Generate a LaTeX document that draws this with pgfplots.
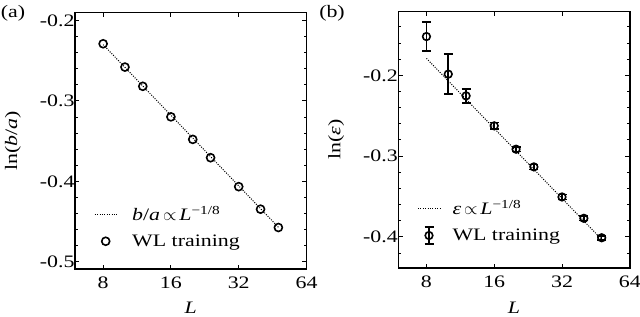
\documentclass[border=0pt]{standalone}
\usepackage{fontspec}
\setmainfont[FakeStretch=1.25]{Liberation Serif}
\newfontfamily\tf[FakeStretch=1.25]{Liberation Serif}
\usepackage{pgfplots}
\pgfplotsset{compat=1.18}
\newcommand{\fs}{\tf\fontsize{17.5}{20}\selectfont}

\pgfplotsset{
  legline/.style={legend image code/.code={\draw[##1] (0pt,0pt) -- (22pt,0pt); \path (37pt,0pt);}},
  legmark/.style={legend image code/.code={\draw[mark repeat=2,mark phase=2,##1] plot coordinates {(0pt,0pt) (11pt,0pt) (22pt,0pt)}; \path (37pt,0pt);}},
  leglineB/.style={legend image code/.code={\draw[##1] (0pt,0pt) -- (22pt,0pt); \path (34pt,0pt);}},
  legerr/.style={legend image code/.code={\draw[line width=1.6pt, black] (11pt,-8.5pt) -- (11pt,8.5pt) (6.5pt,-8.5pt) -- (15.5pt,-8.5pt) (6.5pt,8.5pt) -- (15.5pt,8.5pt);
    \draw[mark repeat=2,mark phase=2,##1] plot coordinates {(0pt,0pt) (11pt,0pt) (22pt,0pt)}; \path (34pt,0pt);}},
}

\pgfplotstableread{
L y
8 -0.2289
10 -0.2579
12 -0.2818
16 -0.3198
20 -0.3478
24 -0.3706
32 -0.4066
40 -0.4346
48 -0.4574
}\dataA

\pgfplotstableread{
L y
8 -0.2300
48 -0.4570
}\fitA

\pgfplotstableread{
L y ey
8 -0.1520 0.0180
10 -0.1985 0.0247
12 -0.2254 0.0085
16 -0.2625 0.0040
20 -0.2914 0.0030
24 -0.3133 0.0030
32 -0.3505 0.0030
40 -0.3769 0.0025
48 -0.4010 0.0025
}\dataB

\pgfplotstableread{
L y
8 -0.179
48 -0.403
}\fitB

\begin{document}
\begin{tikzpicture}
\path[use as bounding box] (0,0) rectangle (640pt,316pt);
\node[font=\fs] at (13pt,303pt) {(a)};
\node[font=\fs] at (332pt,303pt) {(b)};

\begin{axis}[at={(75pt,47pt)}, anchor=south west,
    scale only axis, width=231.5pt, height=256.5pt,
    xmode=log, log basis x=2, xmin=6, xmax=64,
    xtick={8,16,32,64}, xticklabels={{\fs 8},{\fs 16},{\fs 32},{\fs 64}}, xminorticks=false,
    tick align=inside, xtick pos=both, ytick pos=both,
    axis line style={line width=1.5pt},
    major tick length=4.5pt, minor tick length=3pt,
    every tick/.style={black, line width=1pt},
    tick label style={font=\fs},
    xticklabel style={yshift=-4pt},
    yticklabel={\fs\pgfmathprintnumber[fixed, precision=1, fixed zerofill, assume math mode=true]{\tick}},
    yticklabel style={xshift=3pt},
    label style={font=\fs},
    xlabel={\fs\textit{L}},
    xlabel style={at={(axis description cs:0.5,-0.152)}, anchor=center},
    ylabel style={at={(axis description cs:-0.268,0.5)}, anchor=center},
    legend cell align=left,
    legend style={draw=none, fill=none, font=\fs, inner sep=0pt,
      nodes={inner sep=0pt}, row sep=12.5pt, column sep=0pt,
      at={(axis description cs:0,0)}, anchor=south west, xshift=19pt, yshift=21pt},
  ymin=-0.509, ymax=-0.19,
  ytick={-0.5,-0.4,-0.3,-0.2},
  minor ytick={-0.48,-0.46,-0.44,-0.42,-0.38,-0.36,-0.34,-0.32,-0.28,-0.26,-0.24,-0.22},
  ylabel={\fs ln(\textit{b}/\textit{a})},
]
\addplot[black, line width=1pt, dash pattern=on 1pt off 1.4pt, legline]
  table[x=L, y=y] {\fitA};
\addlegendentry{\fs\textit{b}/\textit{a}\,$\propto$\,\textit{L}\textsuperscript{\char"2212 1/8}}
\addplot[only marks, mark=o, mark size=4pt, mark options={line width=1.6pt, black}, legmark]
  table[x=L, y=y] {\dataA};
\addlegendentry{\fs WL training}
\end{axis}

\begin{axis}[at={(398.3pt,48pt)}, anchor=south west,
    scale only axis, width=231.5pt, height=256.5pt,
    xmode=log, log basis x=2, xmin=6, xmax=64,
    xtick={8,16,32,64}, xticklabels={{\fs 8},{\fs 16},{\fs 32},{\fs 64}}, xminorticks=false,
    tick align=inside, xtick pos=both, ytick pos=both,
    axis line style={line width=1.5pt},
    major tick length=4.5pt, minor tick length=3pt,
    every tick/.style={black, line width=1pt},
    tick label style={font=\fs},
    xticklabel style={yshift=-4pt},
    yticklabel={\fs\pgfmathprintnumber[fixed, precision=1, fixed zerofill, assume math mode=true]{\tick}},
    yticklabel style={xshift=3pt},
    label style={font=\fs},
    xlabel={\fs\textit{L}},
    xlabel style={at={(axis description cs:0.5,-0.156)}, anchor=center},
    ylabel style={at={(axis description cs:-0.268,0.5)}, anchor=center},
    legend cell align=left,
    legend style={draw=none, fill=none, font=\fs, inner sep=0pt,
      nodes={inner sep=0pt}, row sep=10pt, column sep=0pt,
      at={(axis description cs:0,0)}, anchor=south west, xshift=19pt, yshift=23pt},
  ymin=-0.4384, ymax=-0.121,
  ytick={-0.4,-0.3,-0.2},
  minor ytick={-0.42,-0.38,-0.36,-0.34,-0.32,-0.28,-0.26,-0.24,-0.22,-0.18,-0.16,-0.14,-0.12},
  ylabel={\fs ln(\textit{ε})},
]
\addplot[black, line width=1pt, dash pattern=on 1pt off 1.4pt, leglineB]
  table[x=L, y=y] {\fitB};
\addlegendentry{\fs\textit{ε}\,$\propto$\,\textit{L}\textsuperscript{\char"2212 1/8}}
\addplot[only marks, mark=o, mark size=3.8pt, mark options={line width=1.6pt, black},
  error bars/y dir=both, error bars/y explicit,
  error bars/error bar style={line width=1.6pt, black},
  error bars/error mark options={mark size=4.5pt, line width=1.6pt, black, rotate=90},
  legerr]
  table[x=L, y=y, y error=ey] {\dataB};
\addlegendentry{\fs WL training}
\end{axis}
\end{tikzpicture}
\end{document}
